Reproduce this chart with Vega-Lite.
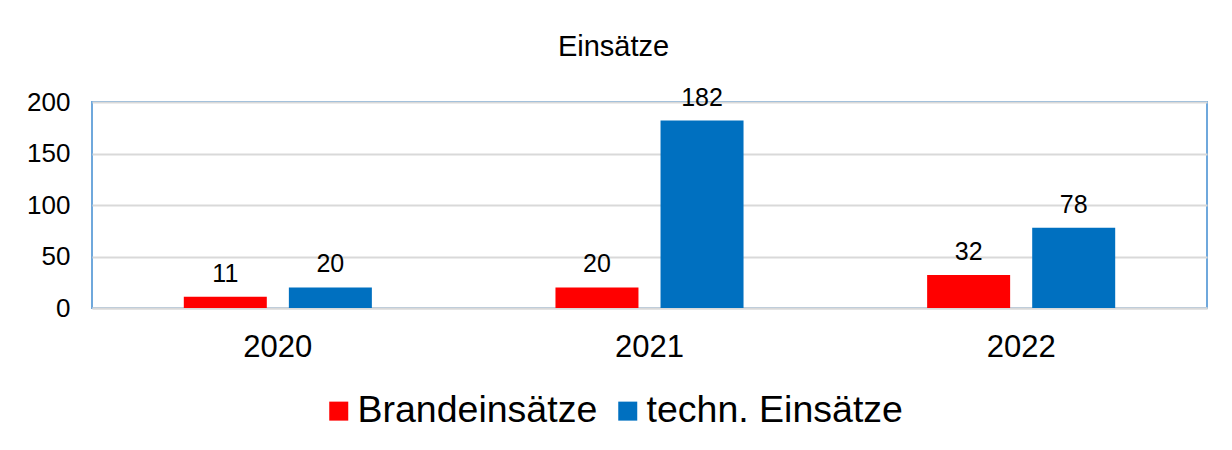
{
  "$schema": "https://vega.github.io/schema/vega-lite/v6.json",
  "width": 1115,
  "height": 206,
  "autosize": {"type": "none"},
  "padding": {"left": 92, "top": 102, "right": 25, "bottom": 142},
  "background": "white",
  "title": {"text": "Einsätze", "dx": -36},
  "data": {"values": [
    {"year": "2020", "series": "Brandeinsätze", "value": 11},
    {"year": "2020", "series": "techn. Einsätze", "value": 20},
    {"year": "2021", "series": "Brandeinsätze", "value": 20},
    {"year": "2021", "series": "techn. Einsätze", "value": 182},
    {"year": "2022", "series": "Brandeinsätze", "value": 32},
    {"year": "2022", "series": "techn. Einsätze", "value": 78}
  ]},
  "encoding": {
    "x": {"field": "year", "type": "nominal", "scale": {"paddingInner": 0.494, "paddingOuter": 0.247},
      "axis": {"title": null, "labelAngle": 0, "labelFontSize": 31, "labelPadding": 24, "ticks": false, "domainColor": "#d9d9d9", "domainWidth": 2, "labelFont": "Liberation Sans", "labelColor": "#000000"}},
    "xOffset": {"field": "series", "type": "nominal", "scale": {"paddingInner": 0.21, "paddingOuter": 0}},
    "y": {"field": "value", "type": "quantitative", "scale": {"domain": [0, 200]},
      "axis": {"title": null, "values": [0, 50, 100, 150, 200], "domain": false, "ticks": false, "labelFontSize": 26, "labelPadding": 22, "gridColor": "#d9d9d9", "gridWidth": 2, "labelFont": "Liberation Sans", "labelColor": "#000000"}}
  },
  "layer": [
    {
      "mark": {"type": "bar"},
      "encoding": {
        "color": {"field": "series", "type": "nominal",
          "scale": {"domain": ["Brandeinsätze", "techn. Einsätze"], "range": ["#FF0000", "#0070C0"]},
          "legend": {"title": null, "orient": "none", "direction": "horizontal", "legendX": 228, "legendY": 290, "symbolType": "square", "symbolSize": 361, "symbolStrokeWidth": 0, "labelFontSize": 37.5, "labelLimit": 0, "labelFont": "Liberation Sans", "labelColor": "#000000", "columnPadding": 11, "labelOffset": 0, "symbolOpacity": 1}}
      }
    },
    {
      "mark": {"type": "text", "baseline": "bottom", "dy": -10, "fontSize": 25, "font": "Liberation Sans", "color": "#000000"},
      "encoding": {"text": {"field": "value", "type": "quantitative"}}
    }
  ],
  "config": {
    "view": {"stroke": "#6FA8DC", "strokeWidth": 2},
    "title": {"fontSize": 29, "font": "Liberation Sans", "fontWeight": "normal", "color": "#000000", "offset": 24, "anchor": "middle"}
  }
}
